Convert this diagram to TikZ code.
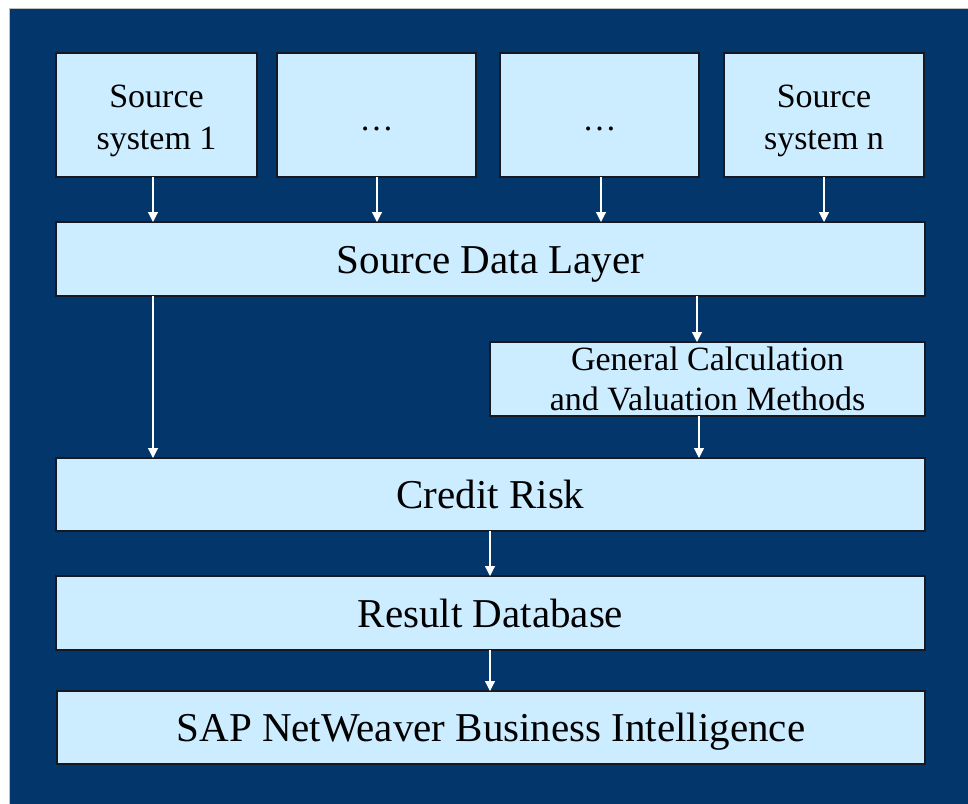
\documentclass[tikz,border=0pt]{standalone}
\usepackage{fontspec}
\setmainfont{Liberation Serif}
\usetikzlibrary{arrows.meta}
\definecolor{bgblue}{RGB}{3,54,107}
\definecolor{boxfill}{RGB}{204,236,255}
\definecolor{boxline}{RGB}{20,25,35}
\begin{document}
\begin{tikzpicture}[x=1pt,y=-1pt,
  box/.style={draw=boxline, fill=boxfill, line width=1.3pt, inner sep=0pt, outer sep=0pt, align=center},
  bigtext/.style={font=\fontsize{41}{49}\selectfont, text height=28pt, text depth=0pt},
  smalltext/.style={font=\fontsize{34}{42.5}\selectfont},
  arr/.style={draw=white, line width=1.2pt, -{Triangle[width=10pt,length=10pt,fill=white]}}]
\useasboundingbox (0,0) rectangle (968,803);
\fill[white] (0,0) rectangle (968,803);
\filldraw[fill=bgblue, draw=black!25, line width=1pt] (9,8) rectangle (975,810);
% source systems
\node[box, smalltext, minimum width=201pt, minimum height=124pt] (s1) at (156.5,115) {\rule{0pt}{34pt}Source\\system 1};
\node[box, smalltext, minimum width=199pt, minimum height=124pt, text height=31pt, text depth=0pt] (s2) at (376.5,115) {…};
\node[box, smalltext, minimum width=199pt, minimum height=124pt, text height=31pt, text depth=0pt] (s3) at (599.5,115) {…};
\node[box, smalltext, minimum width=200pt, minimum height=124pt] (s4) at (824,115) {\rule{0pt}{34pt}Source\\system n};
% layers
\node[box, bigtext, minimum width=869pt, minimum height=74pt] (sdl) at (490.5,259) {Source Data Layer};
\node[box, smalltext, minimum width=435pt, minimum height=74pt] (gcv) at (707.5,379) {General Calculation\\[-2pt]and Valuation Methods};
\node[box, bigtext, minimum width=869pt, minimum height=73pt] (cr) at (490.5,494.5) {Credit Risk};
\node[box, bigtext, minimum width=869pt, minimum height=74pt] (rd) at (490.5,613) {Result Database};
\node[box, bigtext, minimum width=868pt, minimum height=73pt] (sap) at (491,727.5) {SAP NetWeaver Business Intelligence};
% arrows
\draw[arr] ([xshift=-3.5pt]s1.south) -- ([xshift=-3.5pt]s1.south |- sdl.north);
\draw[arr] ([xshift=0.5pt]s2.south) -- ([xshift=0.5pt]s2.south |- sdl.north);
\draw[arr] ([xshift=1.5pt]s3.south) -- ([xshift=1.5pt]s3.south |- sdl.north);
\draw[arr] (s4.south) -- (s4.south |- sdl.north);
\draw[arr] ([xshift=-337.5pt]sdl.south) -- ([xshift=-337.5pt]sdl.south |- cr.north);
\draw[arr] ([xshift=206.5pt]sdl.south) -- ([xshift=206.5pt]sdl.south |- gcv.north);
\draw[arr] ([xshift=-8.5pt]gcv.south) -- ([xshift=-8.5pt]gcv.south |- cr.north);
\draw[arr] ([xshift=-0.5pt]cr.south) -- ([xshift=-0.5pt]cr.south |- rd.north);
\draw[arr] ([xshift=-0.5pt]rd.south) -- ([xshift=-0.5pt]rd.south |- sap.north);
\end{tikzpicture}
\end{document}
